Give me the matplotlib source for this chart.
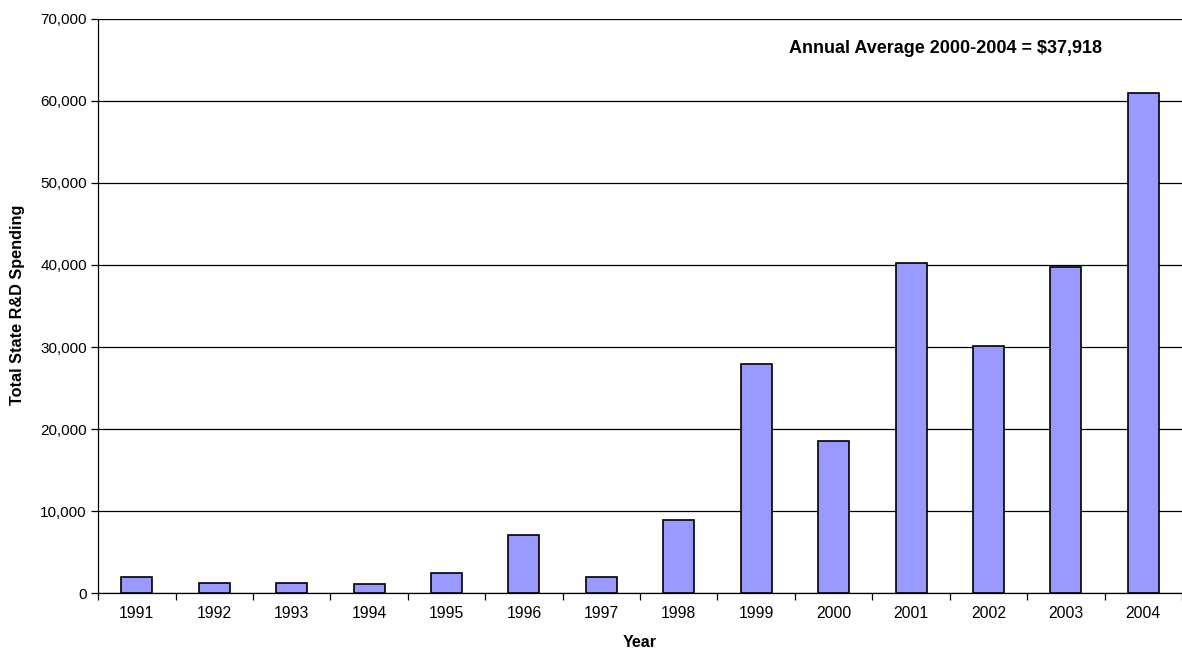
import numpy as np
import matplotlib.pyplot as plt
from matplotlib.ticker import FuncFormatter

plt.rcParams['font.family'] = ['Liberation Sans', 'DejaVu Sans']

years = ['1991', '1992', '1993', '1994', '1995', '1996', '1997',
         '1998', '1999', '2000', '2001', '2002', '2003', '2004']
spending = [2000, 1270, 1270, 1060, 2420, 7130, 2000,
            8980, 27880, 18600, 40200, 30100, 39800, 60900]
note = 'Annual Average 2000-2004 = $37,918'

fig = plt.figure(figsize=(11.82, 6.49), dpi=100)
ax = fig.add_axes([0.083, 0.086, 0.917, 0.885])

x = np.arange(len(years))
ax.bar(x, spending, width=0.4, color='#9999FF', edgecolor='black',
       linewidth=1.2, zorder=3)

ax.set_xlim(-0.5, len(years) - 0.5)
ax.set_ylim(0, 70000)
ax.set_yticks(np.arange(0, 70001, 10000))
ax.yaxis.set_major_formatter(FuncFormatter(lambda v, p: f'{int(v):,}'))
ax.yaxis.grid(True, color='black', linewidth=0.9, zorder=0)

ax.set_xticks(x)
ax.set_xticklabels(years)
ax.set_xticks(np.arange(-0.5, len(years)), minor=True)
ax.tick_params(axis='x', which='major', length=0, labelsize=11.3, pad=9)
ax.tick_params(axis='x', which='minor', length=5, width=0.9, direction='out')
ax.tick_params(axis='y', length=5, width=0.9, labelsize=11, pad=3)

for s in ['top', 'right']:
    ax.spines[s].set_visible(False)
ax.spines['left'].set_linewidth(0.9)
ax.spines['bottom'].set_linewidth(0.9)

ax.set_xlabel('Year', fontsize=11.5, fontweight='bold')
ax.xaxis.set_label_coords(0.5, -0.072)
ax.set_ylabel('Total State R&D Spending', fontsize=11.7, fontweight='bold')
ax.yaxis.set_label_coords(-0.067, 0.502)

ax.text(0.782, 0.949, note, transform=ax.transAxes, ha='center', va='center',
        fontsize=13, fontweight='bold')

fig.savefig('out.png', dpi=100)
